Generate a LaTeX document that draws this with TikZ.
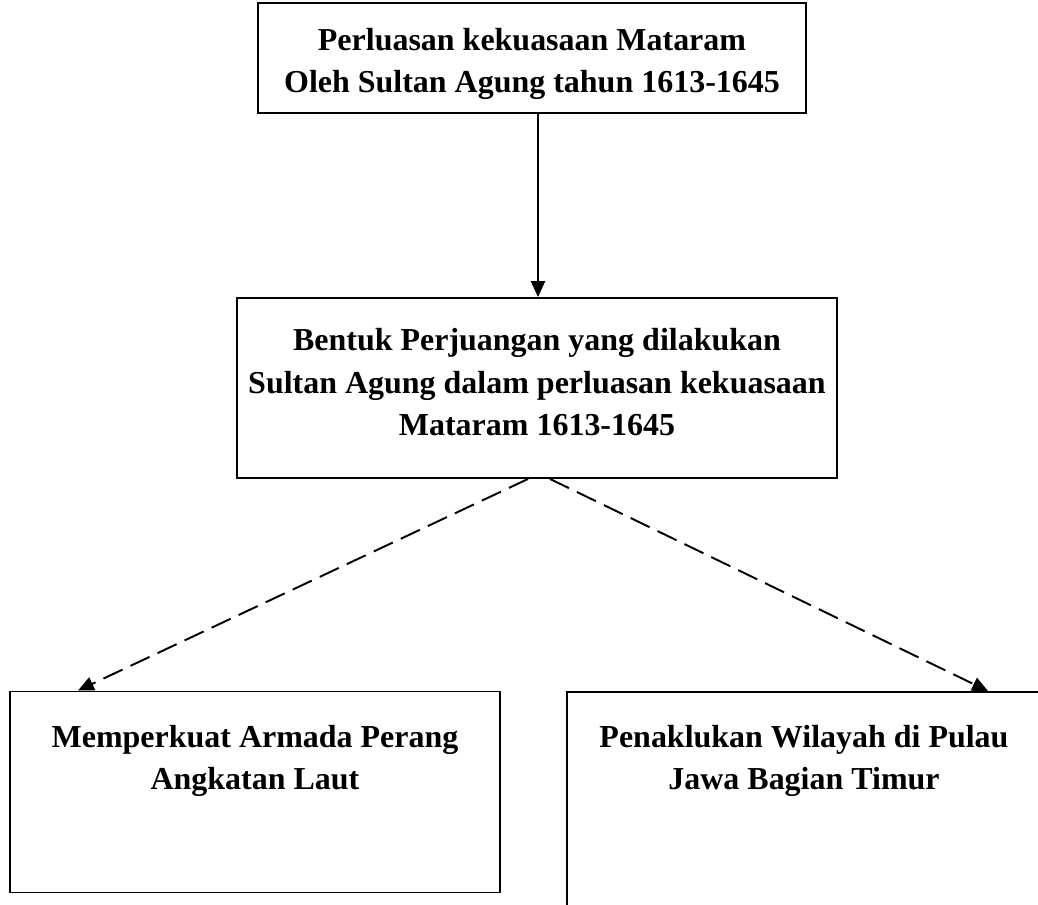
\documentclass[tikz,border=0pt]{standalone}
\usepackage{fontspec}
\setmainfont{Liberation Serif}
\usepackage{tikz}
\usetikzlibrary{arrows.meta,positioning,calc}
\definecolor{chartink}{RGB}{0,0,0}
\tikzset{
  box/.style={draw=chartink, line width=1.1pt, rectangle, align=center,
    font=\fontsize{18.2}{24}\selectfont\bfseries, inner sep=0pt},
  boxtext/.style={align=center, font=\fontsize{18.2}{24}\selectfont\bfseries,
    inner sep=0pt, anchor=north},
  flow/.style={-{Triangle[length=9pt,width=8pt]}, line width=1.1pt, draw=chartink},
  dashflow/.style={flow, dash pattern=on 12pt off 5pt}
}

\begin{document}
\begin{tikzpicture}[x=0.02cm, y=-0.02cm]
    \useasboundingbox (0,0) rectangle (1038,905);
    \node[box, minimum width=548*0.02cm, minimum height=110*0.02cm] (perluasan) at (532,58)
      {\rule{0pt}{0.68cm}Perluasan kekuasaan Mataram\\Oleh Sultan Agung tahun 1613-1645};
    \node[box, minimum width=600*0.02cm, minimum height=180*0.02cm] (bentuk) at (537,388)
      {Bentuk Perjuangan yang dilakukan\\Sultan Agung dalam perluasan kekuasaan\\Mataram 1613-1645\\[-0.6cm]};
    \node[box, minimum width=490*0.02cm, minimum height=201*0.02cm] (armada) at (255,792) {};
    \node[box, minimum width=474*0.02cm, minimum height=218*0.02cm] (timur) at (804,801) {};

    \node[boxtext, below=0.68cm of armada.north] {Memperkuat Armada Perang\\Angkatan Laut};
    \node[boxtext, below=0.68cm of timur.north] {Penaklukan Wilayah di Pulau\\Jawa Bagian Timur};

    \draw[flow] (perluasan.south -| 538,0) -- (bentuk.north -| 538,0);
    \draw[dashflow] ($(bentuk.south)+(-9,0)$) -- (armada.north -| 78,0);
    \draw[dashflow] ($(bentuk.south)+(13,0)$) -- (timur.north -| 988,0);
  \end{tikzpicture}
\end{document}
